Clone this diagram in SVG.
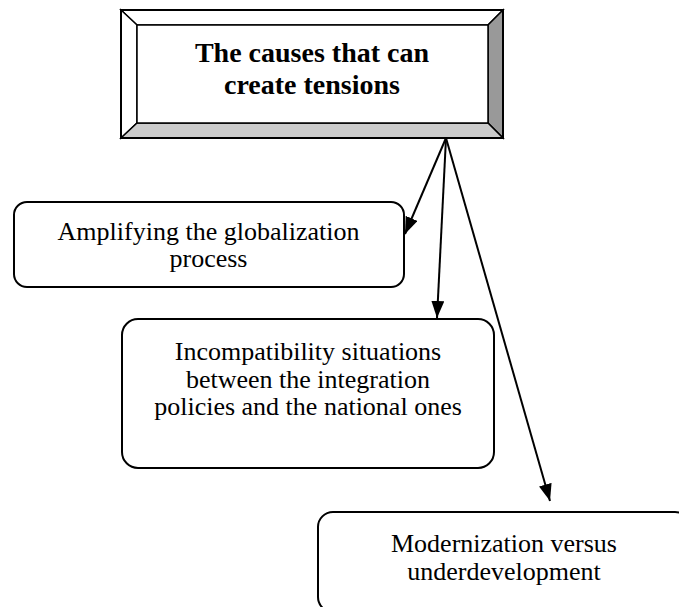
<svg xmlns="http://www.w3.org/2000/svg" width="679" height="607" viewBox="0 0 679 607">
<style>
.box{fill:#fff;stroke:#000;stroke-width:2}
.bev{stroke:#000;stroke-width:1.5;stroke-linejoin:miter}
.t{font-family:"Liberation Serif","Times New Roman",serif;font-size:26px;fill:#000;text-anchor:middle}
.tb{font-family:"Liberation Serif","Times New Roman",serif;font-size:28px;font-weight:bold;fill:#000;text-anchor:middle}
.conn{stroke:#000;stroke-width:2;fill:none;marker-end:url(#ah)}
</style>
<defs>
<marker id="ah" markerUnits="userSpaceOnUse" markerWidth="17" markerHeight="13" refX="17" refY="6.5" orient="auto">
<path d="M0,0 L17,6.5 L0,13 z" fill="#000"/>
</marker>
</defs>
<rect width="679" height="607" fill="#fff"/>
<g id="node-causes">
<polygon class="bev" points="121,10 503,10 488,25 137,25" fill="#fff"/>
<polygon class="bev" points="121,10 137,25 137,123 121,138" fill="#fff"/>
<polygon class="bev" points="503,10 503,138 488,123 488,25" fill="#999"/>
<polygon class="bev" points="121,138 137,123 488,123 503,138" fill="#ccc"/>
<rect x="137" y="25" width="351" height="98" fill="#fff" stroke="#000" stroke-width="1.5"/>
<rect x="121" y="10" width="382" height="128" fill="none" stroke="#000" stroke-width="2"/>
<text class="tb" x="312" y="62">The causes that can</text>
<text class="tb" x="312" y="94">create tensions</text>
</g>
<g id="node-amplifying">
<rect class="box" x="14" y="202" width="390" height="85" rx="13" ry="13"/>
<text class="t" x="208.5" y="240">Amplifying the globalization</text>
<text class="t" x="208.5" y="267">process</text>
</g>
<g id="node-incompatibility">
<rect class="box" x="122" y="319" width="372" height="149" rx="16" ry="16"/>
<text class="t" x="308" y="360">Incompatibility situations</text>
<text class="t" x="308" y="387.5">between the integration</text>
<text class="t" x="308" y="415">policies and the national ones</text>
</g>
<g id="node-modernization">
<rect class="box" x="318" y="512" width="372" height="100" rx="15" ry="15"/>
<text class="t" x="504" y="552">Modernization versus</text>
<text class="t" x="504" y="580">underdevelopment</text>
</g>
<g id="connectors">
<line class="conn" x1="446" y1="138" x2="405" y2="234"/>
<line class="conn" x1="446" y1="138" x2="437" y2="318"/>
<line class="conn" x1="446" y1="138" x2="550" y2="501"/>
</g>
</svg>
